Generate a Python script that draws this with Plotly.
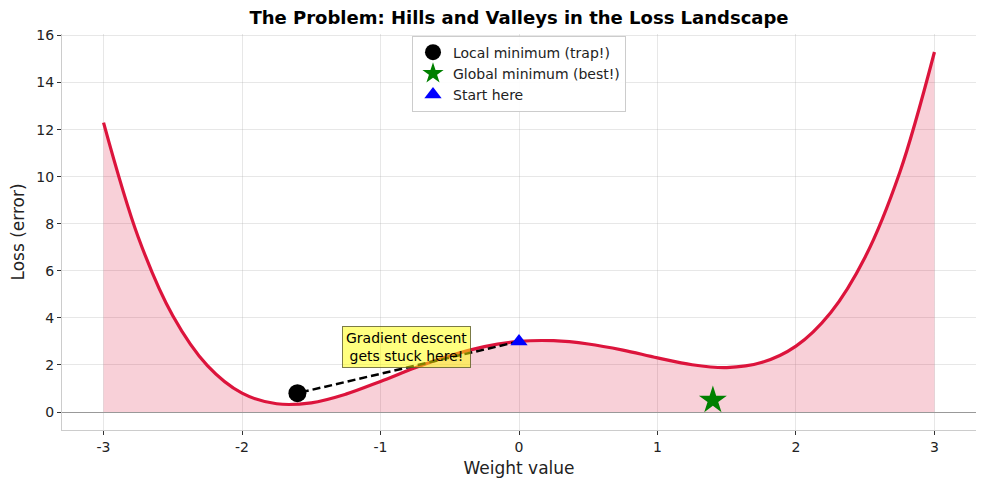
import plotly.graph_objects as go

# loss curve at 0.25 steps
weights = [-3.0, -2.75, -2.5, -2.25, -2.0, -1.75, -1.5, -1.25, -1.0, -0.75, -0.5, -0.25,
           0.0, 0.25, 0.5, 0.75, 1.0, 1.25, 1.5, 1.75, 2.0, 2.25, 2.5, 2.75, 3.0]
loss = [12.3, 7.44, 4.09, 1.97, 0.8, 0.35, 0.39, 0.76, 1.3, 1.88, 2.39, 2.78,
        3.0, 3.03, 2.89, 2.63, 2.3, 2.01, 1.89, 2.1, 2.8, 4.22, 6.59, 10.19, 15.3]

local_min = (-1.6, 0.8)
global_min = (1.4, 0.5)
start = (0.0, 3.0)

xticks = [-3, -2, -1, 0, 1, 2, 3]
yticks = [0, 2, 4, 6, 8, 10, 12, 14, 16]

FONT = "DejaVu Sans"
# page body has an 8px margin, so the figure is drawn a bit smaller
W, H = 979, 479

fig = go.Figure()

fig.add_trace(go.Scatter(
    x=weights, y=loss, mode='lines', line=dict(color='#DC143C', width=3.2, shape='spline'),
    fill='tozeroy', fillcolor='rgba(220,20,60,0.2)', showlegend=False, hoverinfo='skip'))

# dashed path from start to the trap
fig.add_trace(go.Scatter(
    x=[start[0], local_min[0]], y=[start[1], local_min[1]], mode='lines',
    line=dict(color='black', width=2.5, dash='8px,4px'), showlegend=False))

fig.add_trace(go.Scatter(
    x=[local_min[0]], y=[local_min[1]], mode='markers', name='Local minimum (trap!)',
    marker=dict(symbol='circle', size=18, color='black')))
fig.add_trace(go.Scatter(
    x=[global_min[0]], y=[global_min[1]], mode='markers', name='Global minimum (best!)',
    marker=dict(symbol='star', size=21, color='green')))
fig.add_trace(go.Scatter(
    x=[start[0]], y=[start[1]], mode='markers', name='Start here',
    marker=dict(symbol='triangle-up', size=15, color='blue')))

fig.add_annotation(
    x=-0.81, y=2.75, text="Gradient descent<br>gets stuck here!", showarrow=False,
    font=dict(family=FONT, size=14, color='black'),
    bgcolor='rgba(255,255,0,0.5)', bordercolor='rgba(90,90,40,0.8)', borderwidth=1,
    borderpad=3)

fig.update_layout(
    width=W, height=H,
    margin=dict(l=54, r=11, t=26, b=57),
    plot_bgcolor='white', paper_bgcolor='white',
    font=dict(family=FONT, size=14, color='#222'),
    title=dict(text="<b>The Problem: Hills and Valleys in the Loss Landscape</b>",
               x=511 / W, xanchor='center', y=1 - 10 / H, yanchor='middle',
               font=dict(family=FONT, size=18, color='black')),
    legend=dict(x=0.5, xanchor='center', y=0.996, yanchor='top',
                bgcolor='rgba(255,255,255,0.9)', bordercolor='#cccccc', borderwidth=1,
                font=dict(family=FONT, size=14, color='#222')),
    showlegend=True,
)

fig.update_xaxes(
    range=[-3.3, 3.3], tickvals=xticks, ticktext=[str(v) for v in xticks],
    showgrid=True, gridcolor='rgba(176,176,176,0.3)', zeroline=False,
    showline=True, linecolor='#cccccc', linewidth=1, automargin=False,
    ticks='outside', ticklen=4, tickcolor='#333',
    title=dict(text='Weight value', font=dict(family=FONT, size=17, color='#222'), standoff=8))

fig.update_yaxes(
    range=[-0.765, 16.065], tickvals=yticks, ticktext=[str(v) for v in yticks],
    showgrid=True, gridcolor='rgba(176,176,176,0.3)',
    zeroline=True, zerolinecolor='#999999', zerolinewidth=1,
    showline=True, linecolor='#cccccc', linewidth=1, automargin=False,
    ticks='outside', ticklen=4, tickcolor='#333',
    title=dict(text='Loss (error)', font=dict(family=FONT, size=17, color='#222'), standoff=8))

fig.write_html("out.html")
